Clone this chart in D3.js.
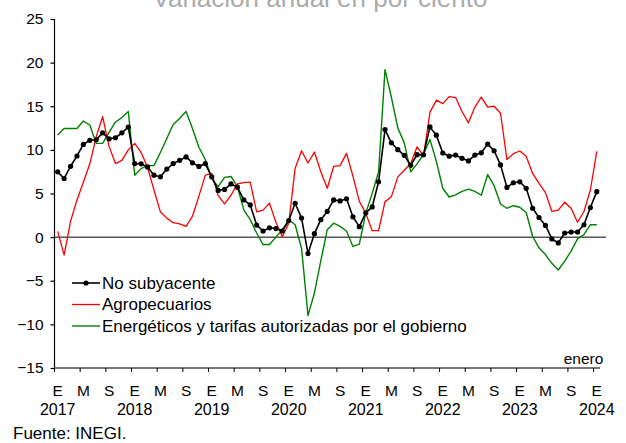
<!DOCTYPE html>
<html>
<head>
<meta charset="utf-8">
<script src="https://cdn.jsdelivr.net/npm/d3@7"></script>
<style>
body { margin: 0; background: #fff; }
svg { font-family: Arial, "Liberation Sans", sans-serif; }
</style>
</head>
<body>
<svg id="chart" width="626" height="443"></svg>
<script>
// monthly, enero 2017 - enero 2024
var years = [2017, 2018, 2019, 2020, 2021, 2022, 2023, 2024];
var monthLetters = ["E", "F", "M", "A", "M", "J", "J", "A", "S", "O", "N", "D"];
var yTicks = [-15, -10, -5, 0, 5, 10, 15, 20, 25];

var noSubyacente = [
	7.48, 6.72, 8.11, 9.30, 10.63, 11.10, 11.16, 11.95, 11.27, 11.39, 11.95, 12.62,
	8.43, 8.40, 8.05, 7.10, 6.91, 7.80, 8.43, 8.80, 9.19, 8.52, 8.10, 8.43,
	6.91, 5.35, 5.47, 6.10, 5.72, 4.26, 3.69, 1.38, 0.70, 1.07, 0.98, 0.70,
	1.90, 3.88, 2.18, -1.89, 0.40, 2.00, 2.94, 4.26, 4.15, 4.40, 2.33, 1.20,
	2.78, 3.46, 6.34, 12.33, 10.81, 10.02, 9.37, 8.24, 9.45, 9.43, 12.63, 11.68,
	9.64, 9.28, 9.40, 9.03, 8.73, 9.40, 9.66, 10.66, 9.90, 8.28, 5.70, 6.23,
	6.34, 5.59, 3.31, 2.25, 1.34, -0.21, -0.66, 0.47, 0.59, 0.59, 1.42, 3.39,
	5.21
];
var agropecuarios = [
	0.66, -2.06, 1.8, 4.26, 6.3, 8.4, 11.5, 13.8, 10.4, 8.43, 8.8, 10.0,
	10.75, 9.7, 8.0, 5.4, 2.9, 2.18, 1.65, 1.53, 1.23, 2.4, 4.7, 7.1,
	7.3, 4.75, 3.8, 4.8, 6.1, 6.25, 6.3, 2.9, 3.1, 3.9, 1.7, 0.05,
	1.6, 7.9, 9.9, 8.5, 9.75, 7.5, 5.6, 8.1, 8.2, 9.6, 7.0, 4.1,
	2.75, 0.74, 0.74, 4.07, 4.64, 6.9, 7.67, 8.43, 10.35, 9.3, 14.3, 15.7,
	15.3, 16.1, 16.0, 14.4, 13.1, 14.9, 16.05, 14.9, 15.0, 14.2, 8.9, 9.56,
	9.87, 9.28, 7.3, 6.16, 5.1, 2.94, 3.1, 4.0, 3.3, 1.7, 2.94, 5.4,
	9.83
];
var energeticos = [
	11.7, 12.45, 12.45, 12.45, 13.3, 12.85, 10.75, 10.75, 12.0, 13.2, 13.7, 14.4,
	7.1, 7.85, 8.2, 8.2, 9.7, 11.3, 12.9, 13.6, 14.4, 12.45, 10.3, 8.9,
	6.7, 5.78, 6.85, 6.95, 5.78, 3.13, 2.0, 0.47, -0.85, -0.85, 0.0, 0.85,
	2.0, 1.42, -1.3, -9.0, -6.4, -2.7, 0.85, 1.6, 1.23, 0.7, -1.07, -0.8,
	2.75, 5.0, 7.5, 19.2, 16.0, 12.5, 10.8, 7.48, 8.4, 9.5, 11.2, 8.7,
	5.6, 4.6, 4.85, 5.25, 5.5, 5.25, 4.8, 7.17, 5.9, 3.8, 3.31, 3.6,
	3.43, 2.82, 0.1, -1.23, -2.0, -3.0, -3.77, -2.75, -1.6, -0.2, 0.28, 1.42,
	1.42
];

var series = [
	{ name: "No subyacente", values: noSubyacente, color: "#000000", width: 1.6, dots: true },
	{ name: "Agropecuarios", values: agropecuarios, color: "#ff0000", width: 1.3, dots: false },
	{ name: "Energéticos y tarifas autorizadas por el gobierno", values: energeticos, color: "#008000", width: 1.4, dots: false }
];

var svg = d3.select("#chart");
var plotLeft = 54.5, plotRight = 600, plotTop = 19, plotBottom = 368;

var idx = d3.range(noSubyacente.length);
var x = d3.scaleBand().domain(idx).range([plotLeft, plotRight]).paddingInner(0).paddingOuter(0);
var y = d3.scaleLinear().domain([-15, 25]).range([plotBottom, plotTop]);
var cx = function (i) { return x(i) + x.bandwidth() / 2; };

// title (cut off at the top)
svg.append("text")
	.attr("x", 320).attr("y", 7)
	.attr("text-anchor", "middle")
	.attr("font-size", 26)
	.attr("fill", "#ababab")
	.text("Variación anual en por ciento");

// y axis
var yAxis = d3.axisLeft(y).tickValues(yTicks).tickSize(4).tickPadding(7).tickFormat(d3.format("d"));
var gy = svg.append("g").attr("transform", "translate(" + plotLeft + ",0)").call(yAxis);
gy.select(".domain").attr("stroke", "#000").attr("stroke-width", 1.2).attr("d", "M0," + plotTop + "V" + plotBottom);
gy.selectAll(".tick line").attr("stroke", "#000").attr("stroke-width", 1.2);
gy.selectAll(".tick text").attr("font-size", 15.5).attr("font-family", "Arial, 'Liberation Sans', sans-serif").attr("fill", "#000");

// x axis: ticks every 4 months at the band edge
var tickIdx = idx.filter(function (i) { return i % 4 === 0; });
var gx = svg.append("g").attr("transform", "translate(0," + plotBottom + ")");
gx.append("line").attr("x1", plotLeft).attr("x2", plotRight).attr("y1", 0).attr("y2", 0)
	.attr("stroke", "#777").attr("stroke-width", 2);
gx.selectAll("line.tick").data(tickIdx).enter().append("line").attr("class", "tick")
	.attr("x1", function (i) { return x(i); }).attr("x2", function (i) { return x(i); })
	.attr("y1", 0).attr("y2", 4).attr("stroke", "#000").attr("stroke-width", 1);
gx.selectAll("text.month").data(tickIdx).enter().append("text").attr("class", "month")
	.attr("x", cx).attr("y", 27.5)
	.attr("text-anchor", "middle").attr("font-size", 15.5)
	.text(function (i) { return monthLetters[i % 12]; });
gx.selectAll("text.year").data(years).enter().append("text").attr("class", "year")
	.attr("x", function (yr, k) { return cx(k * 12); }).attr("y", 47)
	.attr("text-anchor", "middle").attr("font-size", 16)
	.text(function (yr) { return yr; });

svg.append("text").attr("x", 583.5).attr("y", 364)
	.attr("text-anchor", "middle").attr("font-size", 15.5)
	.text("enero");

// zero line
svg.append("line").attr("x1", plotLeft).attr("x2", 606).attr("y1", y(0)).attr("y2", y(0))
	.attr("stroke", "#555").attr("stroke-width", 1.5);

// series (draw green, red, black so black sits on top)
var line = d3.line().x(function (d, i) { return cx(i); }).y(function (d) { return y(d); });
series.slice().reverse().forEach(function (s) {
	svg.append("path").attr("d", line(s.values))
		.attr("fill", "none").attr("stroke", s.color)
		.attr("stroke-width", s.width).attr("stroke-linejoin", "round");
	if (s.dots) {
		svg.append("g").selectAll("circle").data(s.values).enter().append("circle")
			.attr("cx", function (d, i) { return cx(i); })
			.attr("cy", function (d) { return y(d); })
			.attr("r", 2.6).attr("fill", s.color);
	}
});

// legend
var lg = svg.append("g");
series.forEach(function (s, k) {
	var ly = 283 + k * 21.5;
	lg.append("line").attr("x1", 72).attr("x2", 100).attr("y1", ly).attr("y2", ly)
		.attr("stroke", s.color).attr("stroke-width", s.width);
	if (s.dots) {
		lg.append("circle").attr("cx", 86).attr("cy", ly).attr("r", 2.6).attr("fill", s.color);
	}
	lg.append("text").attr("x", 102).attr("y", ly).attr("dy", "0.35em")
		.attr("font-size", 17).text(s.name);
});

// source
svg.append("text").attr("x", 13).attr("y", 439).attr("font-size", 17).text("Fuente: INEGI.");
</script>
</body>
</html>
